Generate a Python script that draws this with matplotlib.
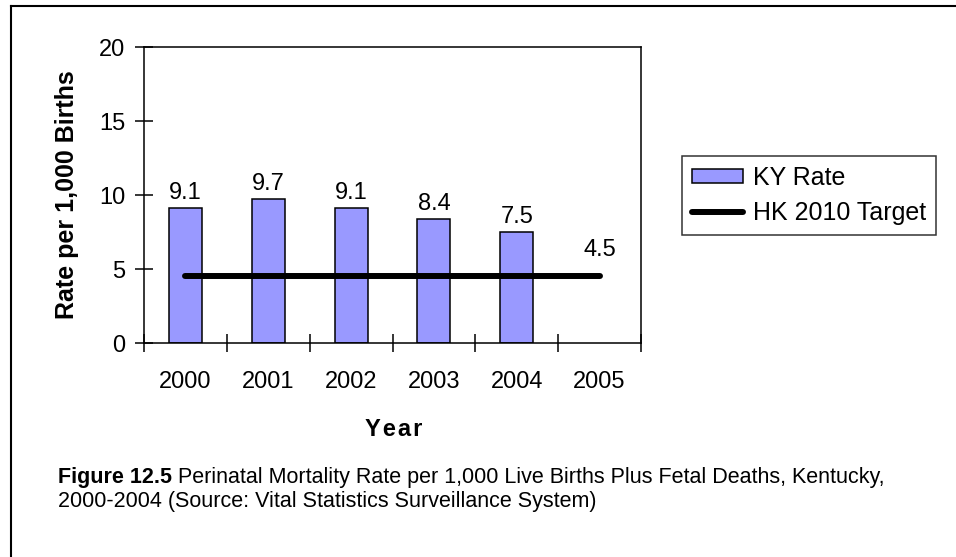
import matplotlib
matplotlib.use("Agg")
import matplotlib.pyplot as plt
from matplotlib.lines import Line2D

# Data
years = ["2000", "2001", "2002", "2003", "2004", "2005"]
ky_rate = [9.1, 9.7, 9.1, 8.4, 7.5]
hk_target = [4.5, 4.5, 4.5, 4.5, 4.5, 4.5]
y_ticks = [0, 5, 10, 15, 20]

plt.rcParams['font.family'] = ['Liberation Sans', 'DejaVu Sans']

W, H = 956, 557
fig = plt.figure(figsize=(W / 100, H / 100), dpi=100)

# plot area in pixel coords of the reference
left, right, top, bottom = 144, 641, 47, 343
ax = fig.add_axes([left / W, 1 - bottom / H, (right - left) / W, (bottom - top) / H])

x = list(range(len(years)))
bars = ax.bar(x[:len(ky_rate)], ky_rate, width=0.4, color="#9999FF",
              edgecolor="black", linewidth=1.1, label="KY Rate", zorder=2)
line, = ax.plot(x, hk_target, color="black", linewidth=4.3,
                solid_capstyle="round", label="HK 2010 Target", zorder=3)

for xi, v in zip(x, ky_rate):
    ax.annotate(f"{v:.1f}", (xi, v), xytext=(0, 3), textcoords="offset points",
                ha="center", va="bottom", fontsize=17)
ax.annotate(f"{hk_target[-1]:.1f}", (x[-1], hk_target[-1]), xytext=(0, 11),
            textcoords="offset points", ha="center", va="bottom", fontsize=17)

ax.set_xlim(-0.5, len(years) - 0.5)
ax.set_ylim(0, 20)
ax.set_yticks(y_ticks)
ax.set_yticklabels([str(t) for t in y_ticks])
# ticks sit on the category boundaries, labels at the centres
ax.set_xticks([i - 0.5 for i in range(len(years) + 1)])
ax.set_xticklabels([])
ax.set_xticks(x, minor=True)
ax.set_xticklabels(years, minor=True)
ax.tick_params(axis="both", which="major", direction="inout", length=13,
               width=1.1, labelsize=17, color="black")
ax.tick_params(axis="x", which="minor", length=0, labelsize=17, pad=20)
ax.tick_params(axis="y", which="major", pad=7)
for s in ax.spines.values():
    s.set_linewidth(1.1)
    s.set_color("black")

ax.set_ylabel("Rate per 1,000 Births", fontsize=18, fontweight="bold")
ax.yaxis.label.set_va("center")
ax.yaxis.set_label_coords((67 - left) / (right - left), 0.5)
ax.set_xlabel("\u200aY\u200ae\u200aa\u200ar", fontsize=17, fontweight="bold")
ax.xaxis.label.set_va("center")
ax.xaxis.set_label_coords(0.5, -(429 - bottom) / (bottom - top))

leg = fig.legend(handles=[bars, line], loc="upper left",
                 bbox_to_anchor=(682 / W, 1 - 156 / H), borderaxespad=0,
                 fontsize=18, frameon=True, fancybox=False, shadow=False,
                 handlelength=2.05, handleheight=0.44, handletextpad=0.4,
                 borderpad=0.4, labelspacing=0.44)
leg.get_frame().set_edgecolor("black")
leg.get_frame().set_linewidth(1.1)

# caption: bold figure number followed by the regular text
cap_font = dict(fontsize=15.5, family=["Liberation Sans", "DejaVu Sans"])
t1 = fig.text(58 / W, 1 - 477 / H, "Figure 12.5", fontweight="bold",
              va="center", **cap_font)
t2 = fig.text(58 / W, 1 - 477 / H,
              " Perinatal Mortality Rate per 1,000 Live Births Plus Fetal Deaths, Kentucky,",
              va="center", **cap_font)
fig.text(58 / W, 1 - 501 / H, "2000-2004 (Source: Vital Statistics Surveillance System)",
         va="center", **cap_font)

# outer frame (top and left edges visible)
fig.add_artist(Line2D([11 / W, 1], [1 - 6 / H, 1 - 6 / H], color="black", linewidth=1.5))
fig.add_artist(Line2D([11 / W, 11 / W], [0, 1 - 6 / H], color="black", linewidth=1.5))

fig.canvas.draw()
bb = t1.get_window_extent(fig.canvas.get_renderer())
t2.set_position((bb.x1 / W, 1 - 477 / H))

fig.savefig("out.png", dpi=100)
